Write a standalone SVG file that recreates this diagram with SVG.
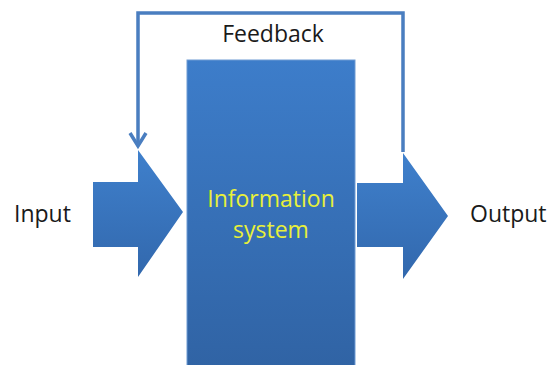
<svg xmlns="http://www.w3.org/2000/svg" width="550" height="365" viewBox="0 0 550 365">
  <defs>
    <linearGradient id="gRect" x1="0" y1="0" x2="0" y2="1">
      <stop offset="0" stop-color="#3d7dca"/>
      <stop offset="1" stop-color="#3063a4"/>
    </linearGradient>
    <linearGradient id="gArrow" x1="0" y1="0" x2="0" y2="1">
      <stop offset="0" stop-color="#3f80cc"/>
      <stop offset="1" stop-color="#3268ad"/>
    </linearGradient>
    <style>
      .lbl { font-family: "Open Sans", "Liberation Sans", sans-serif; font-size: 23px; fill: #1a1a1a; }
      .inner { font-family: "Open Sans", "Liberation Sans", sans-serif; font-size: 23px; fill: #e8f03a; }
      .fb { fill: none; stroke: #4a7ec0; stroke-width: 3.5; stroke-linejoin: miter; }
      .arrow { fill: url(#gArrow); }
    </style>
  </defs>

  <g id="connectors">
    <path class="fb" d="M403,152 L403,13 L138,13 L138,146"/>
    <path class="fb" d="M130,133 L138,146 L146,133"/>
  </g>

  <g id="system">
    <rect x="187" y="60" width="168" height="310" fill="url(#gRect)" stroke="#6f9bd3" stroke-width="1"/>
    <text class="inner" x="271" y="207" text-anchor="middle">Information</text>
    <text class="inner" x="271" y="238" text-anchor="middle">system</text>
  </g>

  <g id="input-arrow">
    <polygon class="arrow" points="93,182 138,182 138,150 183,212 138,277 138,247 93,247"/>
  </g>

  <g id="output-arrow">
    <polygon class="arrow" points="357,183 403,183 403,153 448,216 403,279 403,247 357,247"/>
  </g>

  <g id="labels">
    <text class="lbl" x="273" y="42" text-anchor="middle">Feedback</text>
    <text class="lbl" x="14" y="222">Input</text>
    <text class="lbl" x="470" y="222">Output</text>
  </g>
</svg>
